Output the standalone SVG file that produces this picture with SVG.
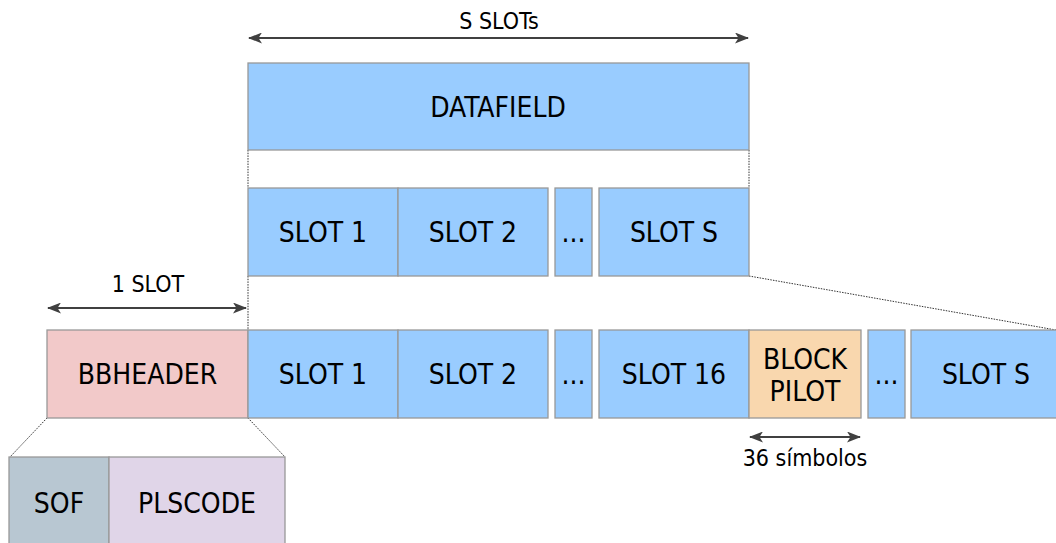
<svg xmlns="http://www.w3.org/2000/svg" width="1056" height="543" viewBox="0 0 1056 543">
  <style>
    text { font-family: "DejaVu Sans Condensed", "DejaVu Sans", sans-serif; font-stretch: condensed; fill: #000; text-anchor: middle; }
    .big { font-size: 28px; }
    .small { font-size: 23px; }
    .box { stroke: #999; stroke-width: 1.3; }
    .blue { fill: #99CCFF; }
    .hdr { fill: #F2C9C9; }
    .pilot { fill: #F9D7AE; }
    .sof { fill: #B8C7D2; }
    .pls { fill: #E0D5E8; }
    .dot { stroke: #333; stroke-width: 1; stroke-dasharray: 1.5 1.2; fill: none; }
    .dim { stroke: #404040; stroke-width: 2; fill: none; marker-start: url(#ah); marker-end: url(#ah); }
  </style>
  <defs>
    <marker id="ah" viewBox="0 0 14 11" refX="13" refY="5.5" markerWidth="14" markerHeight="11" markerUnits="userSpaceOnUse" orient="auto-start-reverse">
      <path d="M0,0 L14,5.5 L0,11 L3.5,5.5 Z" fill="#404040"/>
    </marker>
  </defs>

  <!-- connectors: dimension arrows and dotted zoom guides -->
  <g id="connectors">
    <line class="dim" x1="249" y1="38" x2="748" y2="38"/>
    <line class="dim" x1="48" y1="308" x2="246" y2="308"/>
    <line class="dim" x1="750" y1="437" x2="860" y2="437"/>
    <line class="dot" x1="248" y1="150" x2="248" y2="188"/>
    <line class="dot" x1="749" y1="150" x2="749" y2="188"/>
    <line class="dot" x1="248" y1="276" x2="248" y2="330"/>
    <line class="dot" x1="749" y1="276" x2="1056" y2="330"/>
    <line class="dot" x1="47" y1="418" x2="10" y2="457"/>
    <line class="dot" x1="248" y1="418" x2="285" y2="457"/>
  </g>

  <g id="label-s-slots"><text class="small" x="499" y="29">S SLOTs</text></g>
  <g id="label-1-slot"><text class="small" x="148" y="292">1 SLOT</text></g>
  <g id="label-36"><text class="small" x="805" y="466">36 símbolos</text></g>

  <g id="datafield">
    <rect class="box blue" x="248" y="63" width="501" height="87"/>
    <text class="big" x="498" y="117">DATAFIELD</text>
  </g>

  <!-- slot breakdown of the data field -->
  <g id="top-slot1">
    <rect class="box blue" x="248" y="188" width="150" height="88"/>
    <text class="big" x="323" y="242">SLOT 1</text>
  </g>
  <g id="top-slot2">
    <rect class="box blue" x="398" y="188" width="150" height="88"/>
    <text class="big" x="473" y="242">SLOT 2</text>
  </g>
  <g id="top-dots">
    <rect class="box blue" x="555" y="188" width="37" height="88"/>
    <text class="big" x="573.5" y="242">...</text>
  </g>
  <g id="top-slotS">
    <rect class="box blue" x="599" y="188" width="150" height="88"/>
    <text class="big" x="674" y="242">SLOT S</text>
  </g>

  <!-- full frame with header and pilot block -->
  <g id="bbheader">
    <rect class="box hdr" x="47" y="330" width="201" height="88"/>
    <text class="big" x="147.5" y="384">BBHEADER</text>
  </g>
  <g id="slot1">
    <rect class="box blue" x="248" y="330" width="150" height="88"/>
    <text class="big" x="323" y="384">SLOT 1</text>
  </g>
  <g id="slot2">
    <rect class="box blue" x="398" y="330" width="150" height="88"/>
    <text class="big" x="473" y="384">SLOT 2</text>
  </g>
  <g id="dots1">
    <rect class="box blue" x="555" y="330" width="37" height="88"/>
    <text class="big" x="573.5" y="384">...</text>
  </g>
  <g id="slot16">
    <rect class="box blue" x="599" y="330" width="150" height="88"/>
    <text class="big" x="674" y="384">SLOT 16</text>
  </g>
  <g id="block-pilot">
    <rect class="box pilot" x="749" y="330" width="112" height="88"/>
    <text class="big" x="805" y="369">BLOCK</text>
    <text class="big" x="805" y="401">PILOT</text>
  </g>
  <g id="dots2">
    <rect class="box blue" x="868" y="330" width="37" height="88"/>
    <text class="big" x="886.5" y="384">...</text>
  </g>
  <g id="slotS">
    <rect class="box blue" x="911" y="330" width="150" height="88"/>
    <text class="big" x="986" y="384">SLOT S</text>
  </g>

  <!-- header breakdown -->
  <g id="sof">
    <rect class="box sof" x="9" y="457" width="100" height="95"/>
    <text class="big" x="59" y="513">SOF</text>
  </g>
  <g id="plscode">
    <rect class="box pls" x="109" y="457" width="176" height="95"/>
    <text class="big" x="197" y="513">PLSCODE</text>
  </g>
</svg>
